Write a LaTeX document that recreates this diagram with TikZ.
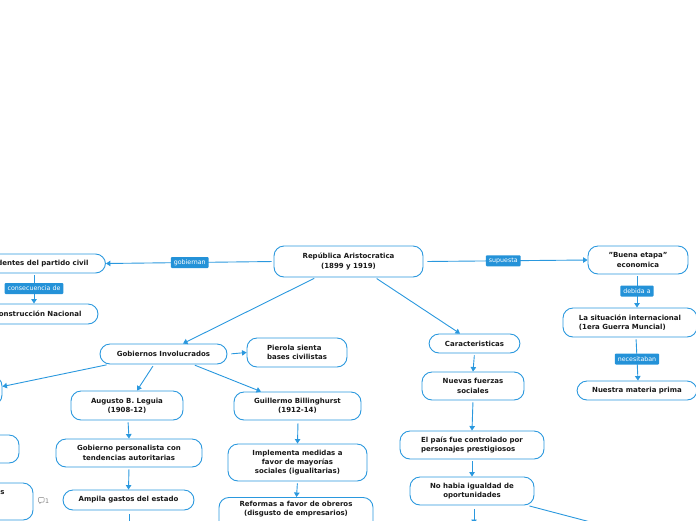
\documentclass[tikz,border=0pt]{standalone}
\usepackage{fontspec}
\setmainfont{DejaVu Sans}
\usetikzlibrary{arrows.meta}
\definecolor{bc}{RGB}{42,152,222}
\definecolor{lc}{RGB}{36,146,216}
\definecolor{tx}{RGB}{25,25,25}
\tikzset{
  box/.style={draw=bc, line width=0.9pt, fill=white, rounded corners=10pt, text=tx,
    font=\bfseries\fontsize{7}{9.4}\selectfont, align=center, inner sep=0pt},
  lab/.style={fill=lc, text=white, font=\fontsize{6.3}{7}\selectfont, rounded corners=1pt,
    inner xsep=3pt, inner ysep=0pt, minimum height=11pt},
  arr/.style={draw=bc, line width=0.9pt, shorten <=2pt, -{Triangle[width=5.5pt,length=4.5pt]}},
  ln/.style={draw=bc, line width=0.9pt, shorten <=2pt}
}
\begin{document}
\begin{tikzpicture}[x=1pt,y=-1pt]
\useasboundingbox (0,0) rectangle (696,520);
% nodes
\node[box, minimum width=149pt, minimum height=31pt] (root) at (348.5,261.5) {República Aristocratica\\(1899 y 1919)};
\node[box, minimum width=145pt, minimum height=19pt] (pc) at (33,263.5) {Presidentes del partido civil};
\node[box, minimum width=130pt, minimum height=20pt] (rn) at (33,314) {Reconstrucción Nacional};
\node[box, minimum width=100pt, minimum height=28pt] (buena) at (638,260) {"Buena etapa"\\economica};
\node[box, minimum width=134pt, minimum height=29pt, align=left] (sit) at (630,322.5) {La situación internacional\\(1era Guerra Muncial)};
\node[box, minimum width=120pt, minimum height=19pt] (nmp) at (637,390.5) {Nuestra materia prima};
\node[box, minimum width=127pt, minimum height=20pt] (gob) at (163.5,354) {Gobiernos Involucrados};
\node[box, minimum width=91pt, minimum height=19pt] (car) at (474.5,343.5) {Caracteristicas};
\node[box, minimum width=100pt, minimum height=29pt, align=left] (pier) at (297,352.5) {Pierola sienta\\bases civilistas};
\node[box, minimum width=112pt, minimum height=29pt] (aug) at (127,405.5) {Augusto B. Leguia\\(1908-12)};
\node[box, minimum width=127pt, minimum height=28pt] (bil) at (297.5,406) {Guillermo Billinghurst\\(1912-14)};
\node[box, minimum width=146pt, minimum height=28pt] (gpc) at (129,453) {Gobierno personalista con\\tendencias autoritarias};
\node[box, minimum width=131pt, minimum height=20pt] (amp) at (128.5,500) {Ampila gastos del estado};
\node[box, minimum width=139pt, minimum height=37pt] (imp) at (297.5,462.5) {Implementa medidas a\\favor de mayorías\\sociales (igualitarias)};
\node[box, minimum width=154pt, minimum height=34pt, anchor=north] (ref) at (296,497) {Reformas a favor de obreros\\(disgusto de empresarios)\\[3pt]};
\node[box, minimum width=102pt, minimum height=28pt] (nf) at (473,386) {Nuevas fuerzas\\sociales};
\node[box, minimum width=144pt, minimum height=28pt, align=left] (pais) at (472,445) {El país fue controlado por\\personajes prestigiosos};
\node[box, minimum width=124pt, minimum height=28pt] (nha) at (472,491) {No habia igualdad de\\oportunidades};
\node[box, minimum width=100pt, minimum height=29pt] (p1) at (-48,390.5) {};
\node[box, minimum width=120pt, minimum height=28pt] (p2) at (-41,449) {};
\node[box, minimum width=120pt, minimum height=37pt] (p3) at (-27,501.5) {};
\node[text=tx, font=\bfseries\fontsize{7}{9.4}\selectfont, inner sep=0pt] (p3t) at (2.4,492.5) {s};
% comment marker
\node[text=gray, font=\fontsize{6.3}{7}\selectfont, inner sep=0pt, anchor=west] (cmt) at (45,501) {1};
\draw[gray, line width=0.5pt, rounded corners=0.6pt] (38.5,497.5) -- (44,497.5) -- (44,502) -- (41,502) -- (39.5,503.8) -- (39.5,502) -- (38.5,502) -- cycle;
% free ends
\coordinate (e1) at (129,526);
\coordinate (e2) at (474,524);
\coordinate (e3) at (600,524.5);
% connectors
\draw[arr] (root.west) -- node[lab]{gobiernan} (pc.east);
\draw[arr] (pc.south -| 34,0) -- node[lab]{consecuencia de} (rn.north -| 34,0);
\draw[arr] (root.east) ++(2,0) -- node[lab, pos=0.48]{supuesta} (buena.west);
\draw[arr] (buena.south -| 637,0) -- node[lab]{debida a} (sit.north -| 637,0);
\draw[arr] (sit.south -| 636,0) -- node[lab]{necesitaban} (nmp.north -| 638,0);
\draw[arr] ([xshift=-32.5pt]root.south) -- ([xshift=19.5pt]gob.north);
\draw[arr] ([xshift=26.5pt]root.south) -- ([xshift=-14.5pt]car.north);
\draw[arr] (gob.east) ++(2,0) -- (pier.west);
\draw[arr] ([xshift=-55pt]gob.south) -- ([yshift=4pt]p1.east);
\draw[arr] ([xshift=-9.5pt]gob.south) -- ([xshift=10pt]aug.north);
\draw[arr] ([xshift=29.5pt]gob.south) -- ([xshift=-36.5pt]bil.north);
\draw[arr] (aug.south) ++(1,0) -- (gpc.north);
\draw[arr] (gpc.south) -- (amp.north);
\draw[ln] (amp.south) ++(0.5,2) -- (e1);
\draw[arr] (bil.south) ++(0.5,1) -- (imp.north);
\draw[arr] (imp.south) -- ([xshift=0.5pt]ref.north);
\draw[arr] (car.south) -- (nf.north);
\draw[arr] (nf.south) -- (pais.north);
\draw[arr] (pais.south) -- (nha.north);
\draw[arr] (nha.south) ++(2,2) -- (e2);
\draw[ln] ([xshift=-7pt]nha.south east) -- (e3);
\end{tikzpicture}
\end{document}
